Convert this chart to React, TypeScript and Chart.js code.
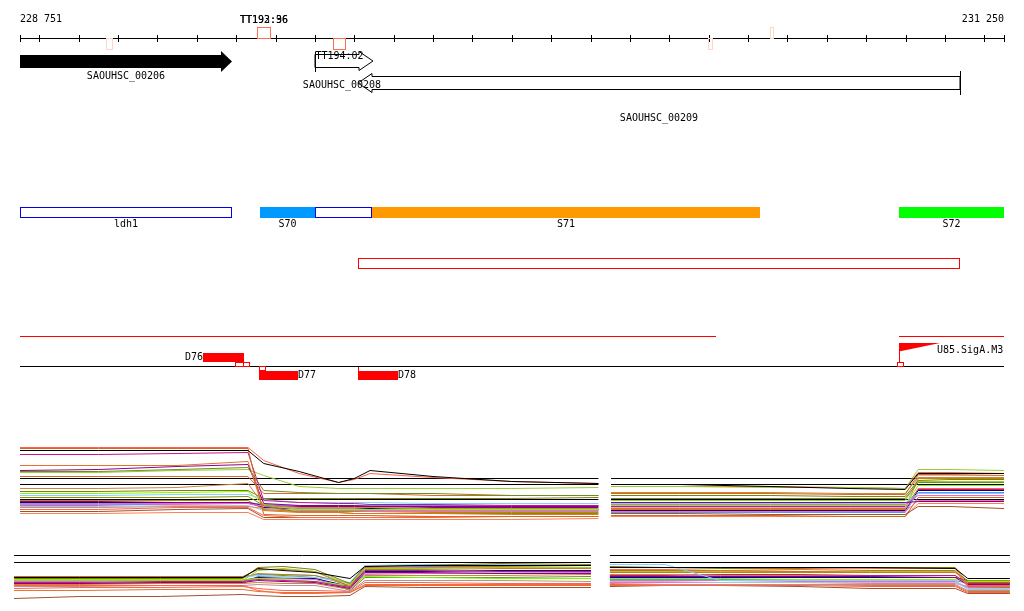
import { useEffect, useRef } from "react";
import { Chart, registerables } from "chart.js";

Chart.register(...registerables);

// ---------------- data ----------------
const REGION_START = 228751;
const REGION_END = 231250;
const TICK_STEP = 100;
const RULER_LABELS = ["228 751", "231 250"];

const TERM_LABELS = ["", "TT192:96", "TT193:36", "TT194:02", "", ""];
const TERM_STARTS = [228969, 229353, 229353, 229546, 230498, 230656];
const TERM_ENDS = [228987, 229388, 229388, 229579, 230511, 230666];
const TERM_STRANDS = ["-", "+", "+", "-", "-", "+"];
const TERM_STRONG = [false, true, true, true, false, false];

const GENE_NAMES = ["SAOUHSC_00206", "SAOUHSC_00208", "SAOUHSC_00209"];
const GENE_STARTS = [228751, 229500, 229609];
const GENE_ENDS = [229289, 229647, 231138];
const GENE_STRANDS = ["+", "+", "-"];
const GENE_SELECTED = [true, false, false];

const SEG_NAMES = ["ldh1", "S70", "", "S71", "S72"];
const SEG_STARTS = [228751, 229361, 229500, 229645, 230983];
const SEG_ENDS = [229289, 229500, 229645, 230630, 231250];

const TRANSCRIPT_STARTS = [229609];
const TRANSCRIPT_ENDS = [231138];

const COVER_STARTS = [228751, 230983];
const COVER_ENDS = [230519, 231250];

const FEAT_NAMES = ["D76", "D77", "D78"];
const FEAT_STARTS = [229216, 229358, 229609];
const FEAT_ENDS = [229320, 229457, 229711];
const FEAT_STRANDS = ["+", "-", "-"];

const MARK_STARTS = [229297, 229317, 229358, 229609];
const MARK_ENDS = [229317, 229333, 229373, 229609];
const MARK_STRANDS = ["+", "+", "-", "-"];

const TSS_NAMES = ["U85.SigA.M3"];
const TSS_POS = [230983];

// expression panels: positions (bp) and levels (log units)
const P1L_X = [228751, 228950, 229150, 229330, 229370, 229460, 229560, 229600, 229640, 229800, 230000, 230220];
const P1L_SERIES = [
  [14, 14, 14, 14, 11.4, 9.8, 7.6, 8.4, 10, 8.8, 7.8, 7.4],
  [14.6, 14.6, 14.6, 14.6, 12, 9.4, 7.6, 8.2, 9.4, 8.6, 7.8, 7.4],
  [14.4, 14.4, 14.4, 14.4, 1.2, 1.0, 1.0, 1.0, 1.0, 0.8, 0.8, 0.8],
  [13.2, 13.2, 13.4, 13.6, 4.0, 3.6, 3.4, 3.4, 3.2, 3.2, 3.0, 3.0],
  [11, 11, 11, 11.8, 2.0, 1.6, 1.6, 1.4, 1.4, 1.4, 1.2, 1.2],
  [10, 10.2, 10.8, 11.2, 3.4, 3.0, 3.0, 3.0, 2.8, 2.8, 2.8, 2.8],
  [9.8, 9.8, 10.2, 10.6, 6.0, 5.6, 5.4, 5.4, 5.4, 5.4, 5.0, 5.0],
  [9.6, 9.6, 10, 10.2, 9.0, 6.8, 6.4, 6.4, 6.4, 6.4, 6.4, 6.6],
  [8.8, 8.8, 8.8, 8.8, 5.4, 5.4, 5.4, 5.4, 5.4, 5.0, 5.0, 5.0],
  [6.4, 6.4, 6.6, 7.4, 3.0, 2.6, 2.6, 2.6, 2.6, 2.4, 2.4, 2.4],
  [5.4, 5.4, 5.6, 5.8, 3.2, 2.2, 2.2, 2.2, 2.2, 2.2, 2.2, 2.2],
  [5, 5, 5.2, 5.2, 4.2, 3.6, 3.6, 3.6, 3.6, 3.4, 3.4, 3.4],
  [4.6, 4.6, 4.6, 4.8, 3.0, 1.6, 1.6, 1.4, 1.4, 1.4, 1.4, 1.4],
  [5.8, 5.8, 6, 6, 4.4, 4.4, 4.4, 4.4, 4.4, 4.4, 4.4, 4.6],
  [3.4, 3.4, 3.4, 3.4, 2.8, 2.4, 2.4, 2.4, 2.2, 2.2, 2.0, 2.0],
  [3.8, 3.8, 3.6, 3.6, 3.0, 2.8, 2.8, 2.8, 2.8, 2.6, 2.6, 2.6],
  [3, 3, 3.4, 3.6, 3.2, 3.0, 3.0, 3.0, 3.0, 3.0, 3.0, 3.0],
  [2.6, 2.6, 2.8, 2.8, 2.4, 2.0, 2.0, 2.0, 1.8, 1.8, 1.8, 1.8],
  [2.2, 2.2, 2.6, 2.6, 1.0, 0.6, 0.6, 0.6, 0.6, 0.6, 0.8, 0.8],
  [1.8, 1.8, 2.2, 2.4, 0.6, 0.6, 0.6, 0.6, 0.6, 0.8, 0.8, 0.8],
  [4, 4, 4, 4, 2.2, 1.8, 1.8, 1.8, 1.8, 1.6, 1.6, 1.6],
  [3.6, 3.6, 3.6, 3.6, 2.6, 2.4, 2.4, 2.4, 2.4, 2.2, 2.2, 2.2],
  [3.2, 3.2, 3.2, 3.4, 2.6, 2.2, 2.2, 2.0, 2.0, 2.0, 2.0, 2.0],
  [2.8, 2.8, 3.0, 3.0, 2.0, 1.8, 1.8, 1.8, 1.8, 1.8, 1.8, 1.8],
  [1.4, 1.4, 1.6, 1.6, 0.2, 0.2, 0.2, 0.2, 0.2, 0.2, 0.2, 0.4],
];

const P1R_X = [230252, 230427, 230656, 230859, 230999, 231032, 231113, 231250];
const P1R_SERIES = [
  [7.2, 7.2, 6.8, 6.4, 6.2, 9.4, 9.4, 9.4],
  [6.8, 6.8, 6.6, 6.6, 6.4, 10.2, 10.2, 10.0],
  [6.8, 6.8, 6.8, 6.6, 6.4, 9.6, 9.6, 9.4],
  [5.4, 5.4, 5.4, 5.2, 5.2, 9.2, 9.2, 9.0],
  [5.6, 5.6, 5.6, 5.4, 5.4, 8.6, 8.6, 8.6],
  [5.0, 5.0, 5.0, 4.8, 4.8, 8.0, 8.2, 8.2],
  [4.4, 4.4, 4.4, 4.4, 4.4, 7.6, 7.6, 7.6],
  [3.6, 3.6, 3.6, 3.6, 3.6, 3.8, 3.8, 3.8],
  [3.2, 3.2, 3.2, 3.2, 3.2, 5.0, 5.0, 5.0],
  [3.4, 3.4, 3.4, 3.4, 3.4, 5.4, 5.4, 5.4],
  [3.0, 3.0, 3.0, 3.0, 3.0, 7.0, 7.0, 7.0],
  [2.6, 2.6, 2.6, 2.6, 2.6, 9.0, 9.0, 9.0],
  [2.2, 2.2, 2.2, 2.2, 2.2, 6.4, 6.4, 6.4],
  [1.4, 1.4, 1.2, 1.2, 1.2, 2.8, 2.8, 2.4],
  [1.0, 1.0, 1.0, 0.8, 0.8, 4.6, 4.6, 4.6],
  [2.4, 2.4, 2.4, 2.4, 2.4, 8.4, 8.4, 8.4],
  [2.0, 2.0, 2.0, 2.0, 2.0, 6.0, 6.0, 6.0],
  [1.8, 1.8, 1.8, 1.8, 1.8, 4.0, 4.0, 4.0],
  [4.0, 4.0, 4.0, 4.0, 4.0, 7.8, 7.8, 7.8],
  [2.8, 2.8, 2.8, 2.8, 2.8, 6.2, 6.2, 6.2],
  [1.6, 1.6, 1.6, 1.6, 1.6, 5.6, 5.6, 5.6],
  [0.8, 0.8, 0.8, 0.8, 0.8, 3.4, 3.4, 3.4],
];

const P2L_X = [228736, 228903, 229107, 229317, 229355, 229419, 229500, 229589, 229627, 229767, 229970, 230201];
const P2L_SERIES = [
  [4.6, 4.6, 4.6, 4.6, 6.4, 6.0, 5.6, 4.4, 6.8, 7.0, 7.0, 7.0],
  [4.4, 4.4, 4.4, 4.4, 6.6, 6.8, 6.2, 3.4, 6.8, 7.0, 7.4, 7.2],
  [4, 4, 4, 4, 6.0, 6.4, 5.8, 3.2, 6.4, 6.4, 6.6, 6.6],
  [4.8, 4.8, 4.8, 4.8, 6.2, 6.2, 5.8, 2.8, 6.6, 6.8, 6.8, 6.6],
  [3, 3, 3, 3, 2.0, 1.4, 1.4, 1.6, 3.2, 3.2, 3.2, 3.2],
  [0.4, 0.8, 0.8, 1.2, 1.0, 0.8, 0.8, 1.0, 2.8, 2.6, 2.6, 2.6],
  [4.8, 4.8, 4.6, 4.6, 5.0, 4.8, 4.6, 3.6, 7.0, 7.2, 7.2, 7.0],
  [3.6, 3.6, 3.8, 3.8, 4.2, 4.0, 3.8, 2.6, 6.0, 6.0, 5.8, 5.8],
  [3.4, 3.4, 3.6, 3.6, 4.0, 3.8, 3.6, 2.4, 5.6, 5.6, 5.4, 5.4],
  [4.2, 4.2, 4.2, 4.2, 4.4, 4.2, 3.8, 3.0, 4.8, 4.6, 4.4, 4.4],
  [3.8, 3.8, 4.0, 4.0, 4.4, 4.4, 4.2, 2.6, 5.2, 5.4, 5.4, 5.6],
  [4.4, 4.4, 4.6, 4.6, 5.4, 5.2, 5.0, 3.0, 6.2, 6.2, 6.4, 6.4],
  [3.2, 3.2, 3.4, 3.4, 3.6, 3.4, 3.4, 2.2, 5.0, 5.0, 5.0, 5.2],
  [2.8, 2.8, 3.0, 3.0, 3.2, 3.0, 3.0, 1.8, 4.0, 4.0, 4.0, 3.8],
  [4, 4, 4, 4, 4.6, 4.4, 4.4, 2.8, 5.8, 5.8, 6, 6],
  [2.4, 2.6, 2.6, 2.8, 2.4, 2.0, 2.0, 1.8, 3.6, 3.6, 3.4, 3.4],
  [3.6, 3.6, 3.6, 3.6, 4.6, 4.6, 4.4, 2.4, 5.4, 5.4, 5.6, 5.6],
  [3.4, 3.4, 3.4, 3.4, 4.8, 5.0, 4.6, 2.0, 4.6, 4.6, 4.6, 4.8],
  [4.6, 4.6, 4.8, 4.8, 5.2, 5.2, 5.0, 3.4, 6.4, 6.6, 6.6, 6.6],
  [2.0, 2.0, 2.2, 2.2, 1.8, 1.6, 1.6, 1.6, 3.0, 3.0, 3.0, 3.0],
];

const P2R_X = [230249, 230389, 230529, 230732, 230910, 231126, 231158, 231265];
const P2R_SERIES = [
  [6.6, 6.6, 6.6, 6.6, 6.6, 6.4, 4.4, 4.4],
  [7.2, 7.2, 4.0, 4.0, 4.0, 4.0, 2.2, 2.2],
  [6.2, 6.2, 6.0, 6.2, 6.4, 6.4, 3.0, 3.0],
  [6.0, 6.0, 6.0, 5.8, 6.0, 6.0, 2.8, 2.6],
  [6.8, 6.6, 6.4, 6.4, 6.6, 6.6, 3.6, 3.6],
  [5.6, 5.6, 5.6, 5.6, 5.6, 5.6, 4.0, 4.0],
  [5.0, 5.0, 5.2, 5.2, 5.0, 5.0, 3.4, 3.4],
  [4.8, 4.8, 4.8, 4.8, 4.8, 4.6, 3.2, 3.2],
  [4.4, 4.4, 4.4, 4.2, 4.2, 4.2, 3.8, 3.8],
  [4.0, 4.0, 4.0, 3.8, 3.8, 3.8, 2.6, 2.6],
  [5.2, 5.2, 5.0, 5.0, 5.0, 5.0, 3.0, 2.8],
  [3.4, 3.2, 3.2, 3.2, 3.2, 3.2, 2.0, 2.0],
  [3.0, 3.0, 3.0, 3.0, 2.8, 2.8, 1.6, 1.6],
  [2.8, 3.0, 3.0, 2.8, 2.4, 2.4, 1.4, 1.4],
  [4.2, 4.2, 4.2, 4.2, 4.2, 4.0, 3.4, 3.4],
  [4.6, 4.6, 4.6, 4.6, 4.6, 4.6, 4.0, 4.0],
  [3.8, 3.8, 3.6, 3.6, 3.6, 3.6, 2.4, 2.4],
  [5.8, 5.8, 5.8, 5.8, 5.8, 5.8, 3.8, 3.8],
  [3.2, 3.2, 3.2, 3.2, 3.0, 3.0, 1.8, 1.8],
  [3.6, 3.6, 3.6, 3.6, 3.4, 3.4, 2.8, 2.8],
];

const P1_REF_LEVELS = [8.4, 7.2, 4.2];
const P2_REF_LEVELS = [9.0, 7.6];

// ---------------- styles ----------------
const P1L_COLORS = [
  "#000000", "#ff6347", "#d2691e", "#c71585", "#e2722e", "#8b008b", "#6b8e23", "#9acd32",
  "#d2691e", "#cd853f", "#7cfc00", "#87cefa", "#8b8b00", "#808000", "#da70d6", "#8b008b",
  "#6495ed", "#bc8f8f", "#ff6347", "#a0522d", "#b8860b", "#000080", "#ff69b4", "#c0c0c0", "#ff7f50",
];
const P1R_COLORS = [
  "#000000", "#9acd32", "#ff6347", "#d2691e", "#cd853f", "#808000", "#6b8e23", "#8b008b",
  "#da70d6", "#87cefa", "#7cfc00", "#c0c0c0", "#ff6347", "#a0522d", "#d2691e", "#b8860b",
  "#000080", "#ff69b4", "#9acd32", "#c71585", "#6495ed", "#ff7f50",
];
const P2L_COLORS = [
  "#000000", "#808000", "#9acd32", "#d2691e", "#ff6347", "#a0522d", "#87cefa", "#c71585",
  "#8b008b", "#7cfc00", "#da70d6", "#b8860b", "#cd853f", "#bc8f8f", "#000080", "#ff6347",
  "#c0c0c0", "#6b8e23", "#6495ed", "#e2722e",
];
const P2R_COLORS = [
  "#000000", "#87cefa", "#ff6347", "#d2691e", "#808000", "#b8860b", "#c71585", "#8b008b",
  "#7cfc00", "#da70d6", "#cd853f", "#bc8f8f", "#ff6347", "#a0522d", "#6495ed", "#000080",
  "#c0c0c0", "#9acd32", "#e2722e", "#ff69b4",
];
const SEG_FILLS = [null, "#0099ff", null, "#ff9900", "#00ff00"];

const FONT = "10px 'DejaVu Sans Mono', 'Liberation Mono', monospace";
const W = 1024;
const H = 611;

function panelRange(basePx: number, pxPerUnit: number) {
  return { min: (basePx - H) / pxPerUnit, max: basePx / pxPerUnit };
}

function seriesSets(xs: number[], series: number[][], colors: string[], axis: string) {
  return series.map((vals, i) => ({
    data: vals.map((v, j) => ({ x: xs[j], y: v })),
    borderColor: colors[i % colors.length],
    borderWidth: 1,
    pointRadius: 0,
    tension: 0,
    fill: false,
    clip: false,
    yAxisID: axis,
  }));
}

function refSets(x0: number, x1: number, levels: number[], axis: string) {
  return levels.map((lv) => ({
    data: [
      { x: x0, y: lv },
      { x: x1, y: lv },
    ],
    borderColor: "#000000",
    borderWidth: 1,
    pointRadius: 0,
    fill: false,
    clip: false,
    yAxisID: axis,
  }));
}

const tracksPlugin = {
  id: "genomeTracks",
  beforeDatasetsDraw(chart: any) {
    const ctx: CanvasRenderingContext2D = chart.ctx;
    const xs = chart.scales.x;
    const X = (v: number) => Math.round(xs.getPixelForValue(v));
    ctx.save();
    ctx.font = FONT;
    ctx.textBaseline = "middle";
    ctx.lineWidth = 1;

    const hline = (x0: number, x1: number, y: number, c: string) => {
      ctx.strokeStyle = c;
      ctx.beginPath();
      ctx.moveTo(x0, y + 0.5);
      ctx.lineTo(x1, y + 0.5);
      ctx.stroke();
    };
    const vline = (x: number, y0: number, y1: number, c: string) => {
      ctx.strokeStyle = c;
      ctx.beginPath();
      ctx.moveTo(x + 0.5, y0);
      ctx.lineTo(x + 0.5, y1);
      ctx.stroke();
    };
    const box = (x0: number, x1: number, y0: number, y1: number, stroke: string | null, fill: string | null) => {
      if (fill) {
        ctx.fillStyle = fill;
        ctx.fillRect(x0, y0, x1 - x0, y1 - y0);
      }
      if (stroke) {
        ctx.strokeStyle = stroke;
        ctx.strokeRect(x0 + 0.5, y0 + 0.5, Math.max(x1 - x0 - 1, 0), y1 - y0 - 1);
      }
    };
    const text = (s: string, x: number, y: number, align: CanvasTextAlign) => {
      ctx.fillStyle = "#000000";
      ctx.textAlign = align;
      ctx.fillText(s, x, y);
    };

    // ruler
    const L = X(REGION_START);
    const R = X(REGION_END);
    hline(L, R + 1, 38, "#000000");
    const ticks = [REGION_START];
    for (let t = Math.ceil(REGION_START / TICK_STEP) * TICK_STEP; t < REGION_END; t += TICK_STEP) ticks.push(t);
    ticks.push(REGION_END);
    ticks.forEach((t) => vline(Math.min(X(t), R), 35, 42, "#000000"));
    text(RULER_LABELS[0], L, 19, "left");
    text(RULER_LABELS[1], R, 19, "right");

    // terminators
    TERM_STARTS.forEach((s, i) => {
      const x0 = X(s);
      const x1 = X(TERM_ENDS[i]);
      const up = TERM_STRANDS[i] === "+";
      const c = TERM_STRONG[i] ? "#ff6e50" : "#ffd6c6";
      if (up) box(x0, x1, 27, 39, c, null);
      else box(x0, x1, 38, 50, c, null);
      if (TERM_LABELS[i]) text(TERM_LABELS[i], (x0 + x1) / 2, up ? 20 : 56, "center");
    });

    // genes
    const rowY = [61.5, 61, 83];
    const labelY = [76, 85, 118];
    GENE_STARTS.forEach((s, i) => {
      const x0 = X(s);
      const x1 = X(GENE_ENDS[i]);
      const cy = rowY[i];
      const plus = GENE_STRANDS[i] === "+";
      const solid = GENE_SELECTED[i];
      const head = solid ? 11 : 14;
      const bh = 6.5;
      const hh = solid ? 10.5 : 9.5;
      ctx.beginPath();
      if (plus) {
        ctx.moveTo(x0, cy - bh);
        ctx.lineTo(x1 - head, cy - bh);
        ctx.lineTo(x1 - head, cy - hh);
        ctx.lineTo(x1, cy);
        ctx.lineTo(x1 - head, cy + hh);
        ctx.lineTo(x1 - head, cy + bh);
        ctx.lineTo(x0, cy + bh);
      } else {
        ctx.moveTo(x1, cy - bh);
        ctx.lineTo(x0 + head, cy - bh);
        ctx.lineTo(x0 + head, cy - hh);
        ctx.lineTo(x0, cy);
        ctx.lineTo(x0 + head, cy + hh);
        ctx.lineTo(x0 + head, cy + bh);
        ctx.lineTo(x1, cy + bh);
      }
      ctx.closePath();
      if (solid) {
        ctx.fillStyle = "#000000";
        ctx.fill();
      } else {
        ctx.strokeStyle = "#000000";
        ctx.stroke();
        if (plus) vline(x0, cy - 9.5, cy + 11, "#000000");
        else vline(x1, cy - 12, cy + 12, "#000000");
      }
      text(GENE_NAMES[i], (x0 + x1) / 2 - (plus && !solid ? 2 : 0), labelY[i], "center");
    });

    // segments
    SEG_STARTS.forEach((s, i) => {
      const x0 = X(s);
      const x1 = X(SEG_ENDS[i]);
      const f = SEG_FILLS[i];
      if (f) box(x0, x1, 207, 218, null, f);
      else box(x0, x1, 207, 218, "#0000ee", null);
      if (SEG_NAMES[i]) text(SEG_NAMES[i], (x0 + x1) / 2, 224, "center");
    });

    // transcripts
    TRANSCRIPT_STARTS.forEach((s, i) => box(X(s), X(TRANSCRIPT_ENDS[i]), 258, 269, "#ff0000", null));

    // coverage lines
    COVER_STARTS.forEach((s, i) => hline(X(s), X(COVER_ENDS[i]), 336, "#ff0000"));

    // baseline
    hline(L, R, 366, "#000000");

    // features
    FEAT_STARTS.forEach((s, i) => {
      const x0 = X(s);
      const x1 = X(FEAT_ENDS[i]);
      if (FEAT_STRANDS[i] === "+") {
        box(x0, x1, 353, 362, null, "#ff0000");
        text(FEAT_NAMES[i], x0, 357.5, "right");
      } else {
        box(x0, x1, 371, 380, null, "#ff0000");
        text(FEAT_NAMES[i], x1, 375.5, "left");
      }
    });

    // markers
    MARK_STARTS.forEach((s, i) => {
      const x0 = X(s);
      const x1 = X(MARK_ENDS[i]);
      const plus = MARK_STRANDS[i] === "+";
      if (x1 - x0 < 2) vline(x0, plus ? 361 : 367, plus ? 366 : 372, "#ff0000");
      else if (plus) box(x0, x1 + 1, 362, 367, "#ff0000", null);
      else box(x0, x1 + 1, 366, 371, "#ff0000", null);
    });

    // TSS flags
    TSS_POS.forEach((p, i) => {
      const x = X(p);
      vline(x, 343, 363, "#ff0000");
      ctx.fillStyle = "#ff0000";
      ctx.beginPath();
      ctx.moveTo(x, 343);
      ctx.lineTo(x + 41, 343);
      ctx.lineTo(x, 351.5);
      ctx.closePath();
      ctx.fill();
      box(x - 2, x + 5, 362, 367, "#ff0000", null);
      text(TSS_NAMES[i], x + 38, 350, "left");
    });

    ctx.restore();
  },
};

export default function App() {
  const ref = useRef<HTMLCanvasElement>(null);
  useEffect(() => {
    document.body.style.margin = "0";
    const datasets: any[] = [
      ...seriesSets(P1L_X, P1L_SERIES, P1L_COLORS, "yP1"),
      ...seriesSets(P1R_X, P1R_SERIES, P1R_COLORS, "yP1"),
      ...seriesSets(P2L_X, P2L_SERIES, P2L_COLORS, "yP2"),
      ...seriesSets(P2R_X, P2R_SERIES, P2R_COLORS, "yP2"),
      ...refSets(P1L_X[0], P1L_X[P1L_X.length - 1], P1_REF_LEVELS, "yP1"),
      ...refSets(P1R_X[0], P1R_X[P1R_X.length - 1], P1_REF_LEVELS, "yP1"),
      ...refSets(P2L_X[0], P2L_X[P2L_X.length - 1], P2_REF_LEVELS, "yP2"),
      ...refSets(P2R_X[0], P2R_X[P2R_X.length - 1], P2_REF_LEVELS, "yP2"),
    ];
    const chart = new Chart(ref.current as HTMLCanvasElement, {
      type: "line",
      data: { datasets },
      options: {
        responsive: false,
        devicePixelRatio: 1,
        animation: false,
        events: [],
        layout: { padding: { left: 20, right: 20, top: 0, bottom: 0 } },
        scales: {
          x: { type: "linear", min: REGION_START, max: REGION_END, display: false },
          yP1: { type: "linear", display: false, ...panelRange(520.5, 5) },
          yP2: { type: "linear", display: false, ...panelRange(600.5, 5) },
        },
        plugins: { legend: { display: false }, tooltip: { enabled: false } },
      } as any,
      plugins: [tracksPlugin],
    });
    return () => chart.destroy();
  }, []);
  return <canvas ref={ref} width={W} height={H} style={{ display: "block", width: W, height: H }} />;
}
